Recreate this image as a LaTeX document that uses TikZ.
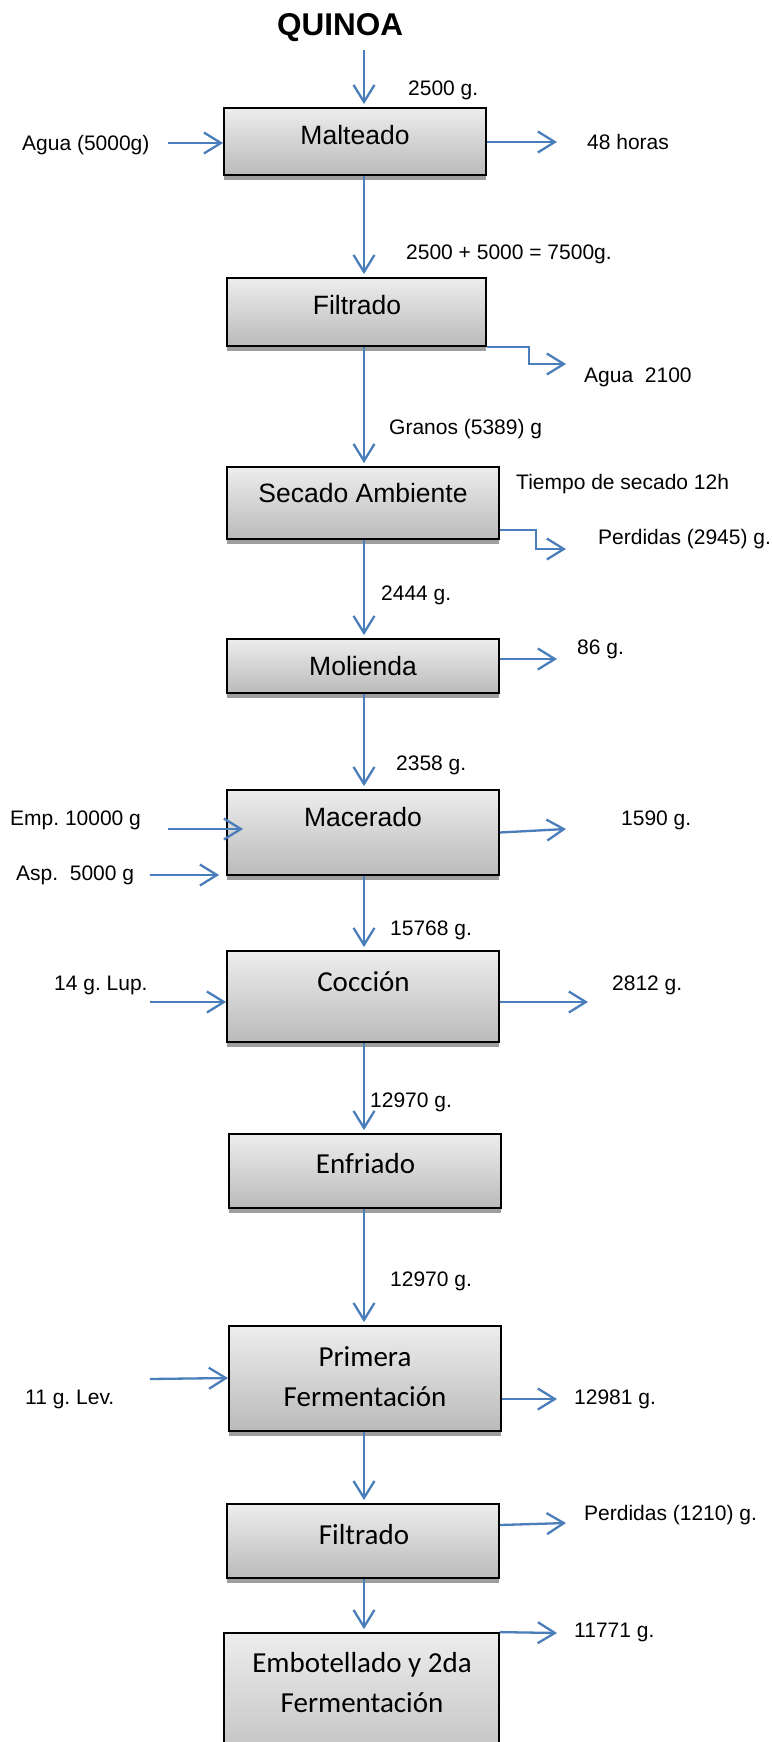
\documentclass[tikz,border=0pt]{standalone}
\usepackage{fontspec}
\setmainfont{Liberation Sans}
\newfontfamily\calibri{Carlito}
\usetikzlibrary{arrows.meta,shadows}
\definecolor{azul}{HTML}{4A7EBB}
\frenchspacing

\begin{document}
\begin{tikzpicture}[x=1pt,y=-1pt]
    \tikzstyle{flecha}=[draw=azul, line width=2.3pt, -{Straight Barb[length=17pt,width=21pt]}]
    \tikzstyle{baja}=[flecha, shorten >=3pt]
    \tikzstyle{caja}=[draw, line width=1.8pt, top color=black!7, bottom color=black!27, drop shadow={shadow xshift=0pt, shadow yshift=-5pt, fill=black!38, opacity=1}, inner sep=0pt]
    \tikzstyle{dato}=[anchor=west, inner sep=0pt, text height=15pt, text depth=0pt, font=\fontsize{21}{25}\selectfont]
    \tikzstyle{paso}=[inner sep=0pt, text height=19pt, text depth=0pt, font=\fontsize{26.5}{30}\selectfont]
    \tikzstyle{pasoc}=[inner sep=0pt, text height=18.7pt, text depth=0pt, font=\calibri\fontsize{29}{40}\selectfont]
    \tikzstyle{pasocc}=[inner sep=0pt, align=center, font=\calibri\fontsize{29}{40}\selectfont]

    \path[use as bounding box, fill=white] (0,0) rectangle (772,1742);
    \clip (0,0) rectangle (772,1742);

    \node[inner sep=0pt, text height=22.5pt, text depth=0pt, font=\bfseries\fontsize{31.5}{36}\selectfont] (quinoa) at (340,24) {QUINOA};

    % cajas del proceso
    \node[caja, minimum width=262, minimum height=67] (malteado) at (355,141.5) {};
    \node[caja, minimum width=259, minimum height=68] (filtrado) at (356.5,312) {};
    \node[caja, minimum width=272, minimum height=72] (secado) at (363,503) {};
    \node[caja, minimum width=272, minimum height=54] (molienda) at (363,666) {};
    \node[caja, minimum width=272, minimum height=85] (macerado) at (363,832.5) {};
    \node[caja, minimum width=272, minimum height=91] (coccion) at (363,996.5) {};
    \node[caja, minimum width=272, minimum height=74] (enfriado) at (365,1171) {};
    \node[caja, minimum width=272, minimum height=105] (primera) at (365,1378.5) {};
    \node[caja, minimum width=272, minimum height=74] (filtradoB) at (363,1541) {};
    \node[caja, minimum width=275, minimum height=147] (embot) at (361.5,1706.5) {};

    \node[paso] (tMalteado) at (355,135) {Malteado};
    \node[paso] (tFiltrado) at (357,305) {Filtrado};
    \node[paso] (tSecado) at (363,493) {Secado Ambiente};
    \node[paso] (tMolienda) at (363,666) {Molienda};
    \node[paso] (tMacerado) at (363,817) {Macerado};
    \node[pasoc] (tCoccion) at (363.5,982) {Cocción};
    \node[pasoc] (tEnfriado) at (365.5,1164) {Enfriado};
    \node[pasocc] (tPrimera) at (365,1377) {Primera\\Fermentación};
    \node[pasoc] (tFiltradoB) at (364,1535) {Filtrado};
    \node[pasocc] (tEmbot) at (362,1683) {Embotellado y 2da\\Fermentación};

    % flujo principal
    \coordinate (eje) at (364,0);
    \coordinate (entrada) at (364,50);
    \draw[baja] (entrada) -- (malteado.north -| eje);
    \draw[baja] (malteado.south -| eje) -- (filtrado.north -| eje);
    \draw[baja] (filtrado.south -| eje) -- (secado.north -| eje);
    \draw[baja] (secado.south -| eje) -- (molienda.north -| eje);
    \draw[baja] (molienda.south -| eje) -- (macerado.north -| eje);
    \draw[baja] (macerado.south -| eje) -- (coccion.north -| eje);
    \draw[baja] (coccion.south -| eje) -- (enfriado.north -| eje);
    \draw[baja] (enfriado.south -| eje) -- (primera.north -| eje);
    \draw[baja] (primera.south -| eje) -- (filtradoB.north -| eje);
    \draw[baja] (filtradoB.south -| eje) -- (embot.north -| eje);

    % entradas y salidas
    \coordinate (aguaIn) at (168,143);
    \coordinate (horasOut) at (557,142);
    \coordinate (aguaOut) at (566,364);
    \coordinate (perdOutA) at (566,549);
    \coordinate (moliOut) at (557,659);
    \coordinate (empIn) at (168,829);
    \coordinate (aspIn) at (150,875);
    \coordinate (macOut) at (566,829);
    \coordinate (lupIn) at (150,1002);
    \coordinate (cocOut) at (588,1002);
    \coordinate (levIn) at (150,1379);
    \coordinate (primOut) at (557,1399);
    \coordinate (perdOutB) at (566,1523);
    \coordinate (botOut) at (557,1633);

    \draw[flecha] (aguaIn) -- (aguaIn -| malteado.west);
    \draw[flecha] (horasOut -| malteado.east) -- (horasOut);
    \draw[flecha] (filtrado.south east) -- ++(42,0) |- (aguaOut);
    \draw[flecha] ([yshift=10pt]secado.south east) -- ++(36,0) |- (perdOutA);
    \draw[flecha] (moliOut -| molienda.east) -- (moliOut);
    \draw[flecha] (empIn) -- ([xshift=17pt]empIn -| macerado.west);
    \draw[flecha] (aspIn) -- ([xshift=-7pt]aspIn -| macerado.west);
    \draw[flecha] (macerado.east) -- (macOut);
    \draw[flecha] (lupIn) -- (lupIn -| coccion.west);
    \draw[flecha] (cocOut -| coccion.east) -- (cocOut);
    \draw[flecha] (levIn) -- ([yshift=1pt]levIn -| primera.west);
    \draw[flecha] (primOut -| primera.east) -- (primOut);
    \draw[flecha] (filtradoB.east |- 0,1525) -- (perdOutB);
    \draw[flecha] (embot.north east) -- (botOut);

    % cantidades
    \node[dato] (d1) at (408,88) {2500 g.};
    \node[dato] (d2) at (22,143) {Agua (5000g)};
    \node[dato] (d3) at (587,142) {48 horas};
    \node[dato] (d4) at (406,252) {2500 + 5000 = 7500g.};
    \node[dato] (d5) at (584,375) {Agua~~2100};
    \node[dato] (d6) at (389,427) {Granos (5389) g};
    \node[dato] (d7) at (516,482) {Tiempo de secado 12h};
    \node[dato] (d8) at (598,537) {Perdidas (2945) g.};
    \node[dato] (d9) at (381,593) {2444 g.};
    \node[dato] (d10) at (577,647) {86 g.};
    \node[dato] (d11) at (396,763) {2358 g.};
    \node[dato] (d12) at (10,818) {Emp. 10000 g};
    \node[dato] (d13) at (621,818) {1590 g.};
    \node[dato] (d14) at (16,873) {Asp.~~5000 g};
    \node[dato] (d15) at (390,928) {15768 g.};
    \node[dato] (d16) at (54,983) {14 g. Lup.};
    \node[dato] (d17) at (612,983) {2812 g.};
    \node[dato] (d18) at (370,1100) {12970 g.};
    \node[dato] (d19) at (390,1279) {12970 g.};
    \node[dato] (d20) at (25,1397) {11 g. Lev.};
    \node[dato] (d21) at (574,1397) {12981 g.};
    \node[dato] (d22) at (584,1513) {Perdidas (1210) g.};
    \node[dato] (d23) at (574,1630) {11771 g.};
\end{tikzpicture}
\end{document}
